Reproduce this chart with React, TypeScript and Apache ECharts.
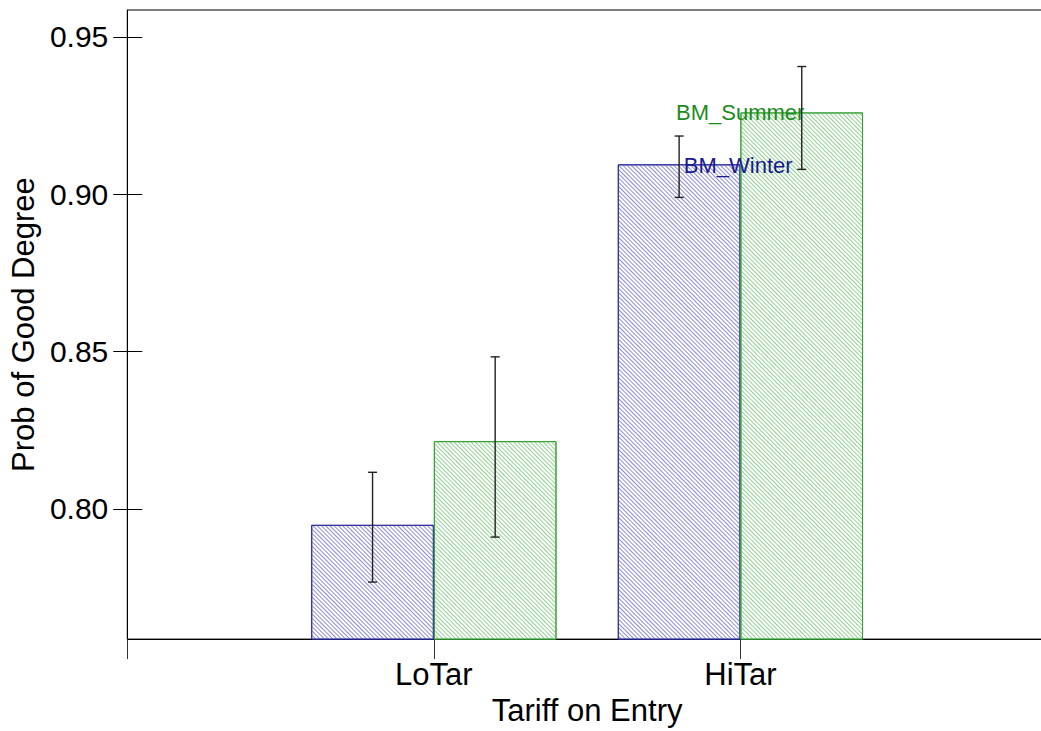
import React, { useEffect, useRef } from 'react';
import * as echarts from 'echarts';

// ---- data ----
const categories = ['', 'LoTar', 'HiTar', ''];
const winterValues: (number | null)[] = [null, 0.7949, 0.9095, null];
const summerValues: (number | null)[] = [null, 0.8215, 0.926, null];
const winterLow: (number | null)[] = [null, 0.7767, 0.899, null];
const winterHigh: (number | null)[] = [null, 0.8116, 0.9185, null];
const summerLow: (number | null)[] = [null, 0.791, 0.9079, null];
const summerHigh: (number | null)[] = [null, 0.8483, 0.9406, null];
const yTicks = [0.8, 0.85, 0.9, 0.95];
const yMin = 0.75857;
const yMax = 0.95857;
const seriesNames = ['BM_Winter', 'BM_Summer'];
const labelIndex = 2;

const FONT = 'Liberation Sans, Arial, sans-serif';

function errData(lo: (number | null)[], hi: (number | null)[]) {
  const out: number[][] = [];
  lo.forEach((v, i) => {
    if (v != null && hi[i] != null) out.push([i, v, hi[i] as number]);
  });
  return out;
}

function makeErrRender(side: number) {
  return (params: any, api: any) => {
    const x = api.value(0);
    const lo = api.value(1);
    const hi = api.value(2);
    const pLo = api.coord([x, lo]);
    const pHi = api.coord([x, hi]);
    const band = Math.abs(api.coord([1, lo])[0] - api.coord([0, lo])[0]);
    const cx = pLo[0] + side * band * 0.2;
    const cap = 4.5;
    const style = { stroke: '#222', lineWidth: 1.4 };
    return {
      type: 'group',
      children: [
        { type: 'line', shape: { x1: cx, y1: pLo[1], x2: cx, y2: pHi[1] }, style },
        { type: 'line', shape: { x1: cx - cap, y1: pHi[1], x2: cx + cap, y2: pHi[1] }, style },
        { type: 'line', shape: { x1: cx - cap, y1: pLo[1], x2: cx + cap, y2: pLo[1] }, style },
      ],
    };
  };
}

export default function App() {
  const ref = useRef<HTMLDivElement>(null);
  useEffect(() => {
    if (!ref.current) return;
    const chart = echarts.init(ref.current, null, { renderer: 'svg' });

    const winterData = winterValues.map((v, i) =>
      i === labelIndex
        ? {
            value: v,
            label: {
              show: true,
              formatter: seriesNames[0],
              position: [66, 1],
              align: 'left',
              verticalAlign: 'middle',
              color: '#1a1a8f',
              fontSize: 22,
              fontFamily: FONT,
            },
          }
        : v
    );
    const summerData = summerValues.map((v, i) =>
      i === labelIndex
        ? {
            value: v,
            label: {
              show: true,
              formatter: seriesNames[1],
              position: [64, 0],
              align: 'right',
              verticalAlign: 'middle',
              color: '#1b8c1b',
              fontSize: 22,
              fontFamily: FONT,
            },
          }
        : v
    );

    chart.setOption({
      animation: false,
      backgroundColor: '#fff',
      textStyle: { fontFamily: FONT },
      grid: {
        left: 126,
        top: 10,
        bottom: 91,
        right: 13,
        show: true,
        borderColor: '#000',
        borderWidth: 1,
        backgroundColor: 'transparent',
      },
      xAxis: {
        type: 'category',
        data: categories,
        boundaryGap: false,
        axisLine: { show: true, lineStyle: { color: '#000', width: 1 } },
        axisTick: { show: true, length: 20, interval: 0, lineStyle: { color: '#333' } },
        axisLabel: { interval: 0, fontSize: 31, color: '#000', margin: 20, fontFamily: FONT },
        splitLine: { show: false },
        name: 'Tariff on Entry',
        nameLocation: 'middle',
        nameGap: 53,
        nameTextStyle: { fontSize: 31, color: '#000', fontFamily: FONT },
      },
      yAxis: [
        {
          type: 'value',
          min: yMin,
          max: yMax,
          position: 'left',
          axisLine: { show: true, lineStyle: { color: '#000', width: 1 } },
          axisTick: { show: true, length: 14, customValues: yTicks, lineStyle: { color: '#000' } },
          axisLabel: {
            customValues: yTicks,
            formatter: (v: number) => v.toFixed(2),
            fontSize: 30,
            color: '#000',
            margin: 19,
            fontFamily: FONT,
          },
          splitLine: { show: false },
          name: 'Prob of Good Degree',
          nameLocation: 'middle',
          nameGap: 87,
          nameTextStyle: { fontSize: 31, color: '#000', fontFamily: FONT },
        },
        {
          type: 'value',
          min: yMin,
          max: yMax,
          position: 'left',
          axisLine: { show: false },
          axisTick: { show: true, inside: true, length: 15, customValues: yTicks, lineStyle: { color: '#000' } },
          axisLabel: { show: false },
          splitLine: { show: false },
        },
      ],
      series: [
        {
          name: seriesNames[0],
          type: 'bar',
          data: winterData,
          barWidth: '40%',
          barGap: '0%',
          itemStyle: {
            color: '#ffffff',
            borderColor: '#2b2b9e',
            borderWidth: 1,
            decal: {
              symbol: 'rect',
              symbolSize: 1,
              dashArrayX: [1, 0],
              dashArrayY: [1, 2],
              rotation: Math.PI / 4,
              color: '#8e8ed2',
            },
          },
        },
        {
          name: seriesNames[1],
          type: 'bar',
          data: summerData,
          barWidth: '40%',
          barGap: '0%',
          itemStyle: {
            color: '#ffffff',
            borderColor: '#34a034',
            borderWidth: 1,
            decal: {
              symbol: 'rect',
              symbolSize: 1,
              dashArrayX: [1, 0],
              dashArrayY: [1, 2],
              rotation: Math.PI / 4,
              color: '#92d292',
            },
          },
        },
        {
          type: 'custom',
          renderItem: makeErrRender(-1),
          data: errData(winterLow, winterHigh),
          z: 5,
        },
        {
          type: 'custom',
          renderItem: makeErrRender(1),
          data: errData(summerLow, summerHigh),
          z: 5,
        },
      ],
    });
    return () => chart.dispose();
  }, []);

  return (
    <div style={{ position: 'fixed', left: 0, top: 0, width: 1041, height: 731, overflow: 'hidden', background: '#fff' }}>
      <div ref={ref} style={{ width: 1060, height: 731 }} />
    </div>
  );
}
